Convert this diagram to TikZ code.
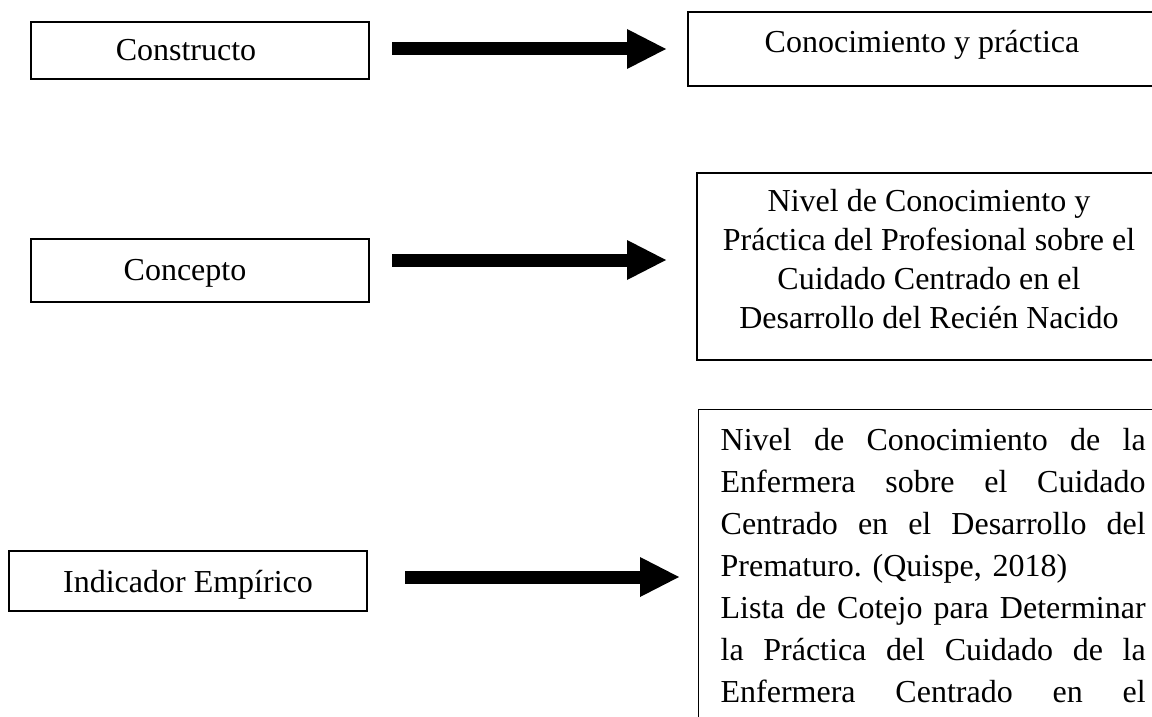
\documentclass[tikz,border=0pt]{standalone}
\usepackage{fontspec}
\setmainfont{Liberation Serif}
\usetikzlibrary{arrows.meta}
\newcommand\jline[1]{\leavevmode\hbox to 425pt{\spaceskip=0.25em plus 10em\relax #1}}
\begin{document}
\begin{tikzpicture}[x=1pt,y=-1pt,
  box/.style={draw=black, line width=1.3pt, rectangle, inner sep=0pt,
    font=\fontsize{32}{38.7}\selectfont\frenchspacing},
  fat/.style={line width=13pt, -{Triangle[length=39pt,width=40pt,line width=0pt]}}]
\useasboundingbox (0,0) rectangle (1152,717);
\clip (0,0) rectangle (1152,717);
% left column
\node[box, minimum width=338pt, minimum height=57pt, text height=22pt, text depth=1pt]
  (A) at (200,50.5) {\hspace*{-28pt}Constructo};
\node[box, minimum width=338pt, minimum height=63pt, text height=22pt, text depth=3pt]
  (C) at (200,270.5) {\hspace*{-30pt}Concepto};
\node[box, minimum width=358pt, minimum height=60pt, text height=22pt, text depth=0pt]
  (E) at (188,581) {Indicador Empírico};
% right column
\node[box, minimum width=468pt, minimum height=74pt, text height=18pt, text depth=10pt]
  (B) at (922,49) {Conocimiento y práctica};
\node[box, align=center, minimum width=464pt, minimum height=187pt, text height=138pt, text depth=15pt]
  (D) at (929,266.5) {Nivel de Conocimiento y\\Práctica del Profesional sobre el\\Cuidado Centrado en el\\Desarrollo del Recién Nacido};
\node[box, anchor=north west, align=left, text width=425pt, inner xsep=22pt, inner ysep=19pt,
  text height=22pt, text depth=300pt, font=\fontsize{32}{42}\selectfont\frenchspacing]
  (F) at (698,409) {\jline{Nivel de Conocimiento de la}\\
\jline{Enfermera sobre el Cuidado}\\
\jline{Centrado en el Desarrollo del}\\
Prematuro. (Quispe, 2018)\\
\jline{Lista de Cotejo para Determinar}\\
\jline{la Práctica del Cuidado de la}\\
\jline{Enfermera Centrado en el}};
% arrows
\coordinate (a1s) at (392,49);  \coordinate (a1e) at (666,49);
\coordinate (a2s) at (392,260); \coordinate (a2e) at (666,260);
\coordinate (a3s) at (405,577); \coordinate (a3e) at (679,577);
\draw[fat] (a1s) -- (a1e);
\draw[fat] (a2s) -- (a2e);
\draw[fat] (a3s) -- (a3e);
\end{tikzpicture}
\end{document}
